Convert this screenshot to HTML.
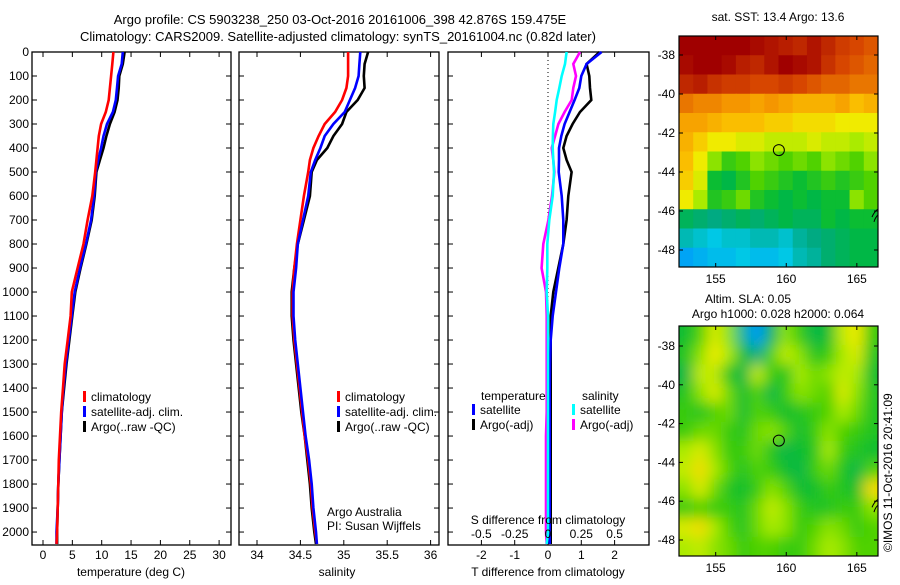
<!DOCTYPE html>
<html><head><meta charset="utf-8"><style>
body{margin:0;background:#fff;width:900px;height:580px;overflow:hidden}
svg{font-family:"Liberation Sans",sans-serif;font-size:12px}
</style></head><body>
<svg id="chart" width="900" height="580" xmlns="http://www.w3.org/2000/svg">
<text x="340" y="24" text-anchor="middle" font-size="13">Argo profile: CS 5903238_250 03-Oct-2016 20161006_398 42.876S 159.475E</text>
<text x="338" y="41" text-anchor="middle" font-size="13">Climatology: CARS2009. Satellite-adjusted climatology: synTS_20161004.nc (0.82d later)</text>
<g id="g1"></g>
<g id="g2"></g>
<g id="g3"></g>
<g id="m1"></g>
<g id="m2"></g>
<text x="778" y="21" text-anchor="middle">sat. SST: 13.4 Argo: 13.6</text>
<text x="748" y="303" text-anchor="middle">Altim. SLA: 0.05</text>
<text x="778" y="318" text-anchor="middle">Argo h1000: 0.028 h2000: 0.064</text>
<text transform="translate(892,552) rotate(-90)">©IMOS 11-Oct-2016 20:41:09</text>
<text x="327" y="516">Argo Australia</text>
<text x="327" y="530">PI: Susan Wijffels</text>
</svg>
<script>
const NS="http://www.w3.org/2000/svg";
const depths=[0,50,100,150,200,250,300,350,400,450,500,600,700,800,900,1000,1100,1200,1300,1400,1500,1600,1700,1800,1900,2000,2050];
const tClim=[12.0,11.8,11.6,11.4,11.2,10.7,9.9,9.5,9.3,9.1,8.9,8.4,7.6,6.9,5.9,4.9,4.7,4.2,3.7,3.4,3.1,2.9,2.7,2.6,2.5,2.4,2.3];
const tSat=[13.6,13.4,12.8,12.6,12.4,11.9,10.9,10.3,9.9,9.4,9.0,8.7,8.2,7.3,6.3,5.4,4.9,4.4,3.9,3.5,3.2,3.0,2.8,2.6,2.5,2.3,2.3];
const tArgo=[13.9,13.6,13.0,12.9,12.7,12.2,11.4,10.8,10.3,9.7,9.1,8.8,8.3,7.4,6.4,5.5,5.0,4.5,4.0,3.6,3.2,3.0,2.8,2.6,2.5,2.4,2.4];
const sClim=[35.05,35.05,35.05,35.03,34.98,34.90,34.78,34.71,34.65,34.61,34.59,34.54,34.50,34.46,34.43,34.41,34.41,34.43,34.46,34.49,34.52,34.55,34.59,34.62,34.64,34.67,34.69];
const sSat=[35.19,35.18,35.17,35.13,35.07,35.01,34.88,34.78,34.73,34.67,34.62,34.59,34.53,34.47,34.45,34.42,34.42,34.44,34.47,34.50,34.53,34.56,34.60,34.63,34.65,34.68,34.69];
const sArgo=[35.28,35.24,35.23,35.24,35.16,35.03,34.98,34.88,34.81,34.69,34.63,34.61,34.54,34.47,34.43,34.40,34.40,34.42,34.45,34.48,34.51,34.55,34.58,34.61,34.63,34.66,34.68];
const dTsat=[1.61,1.16,1.0,0.94,0.8,0.65,0.5,0.4,0.33,0.33,0.32,0.41,0.46,0.46,0.34,0.24,0.14,0.08,0.06,0.05,0.05,0.05,0.05,0.05,0.05,0.05,0.05];
const dTargo=[1.55,1.16,1.24,1.26,1.3,0.96,0.74,0.56,0.46,0.56,0.71,0.61,0.56,0.46,0.31,0.16,0.08,0.08,0.08,0.08,0.08,0.08,0.08,0.08,0.08,0.08,0.08];
const dSsat=[0.14,0.128,0.103,0.085,0.065,0.053,0.04,0.037,0.035,0.04,0.045,0.035,0.01,-0.005,-0.005,-0.01,0,0,0,0,0,0,0,0,0,0,-0.01];
const dSargo=[0.24,0.19,0.21,0.19,0.178,0.125,0.078,0.053,0.028,0.04,0.048,0.03,0.003,-0.035,-0.048,-0.015,-0.01,-0.01,-0.01,-0.01,-0.01,-0.015,-0.015,-0.015,-0.015,-0.015,-0.01];
const depthTicks=[0,100,200,300,400,500,600,700,800,900,1000,1100,1200,1300,1400,1500,1600,1700,1800,1900,2000];
const tTicks=[0,5,10,15,20,25,30];
const sTicks=[34,34.5,35,35.5,36];
const dTTicks=[-2,-1,0,1,2];
const dSTicks=[-0.5,-0.25,0,0.25,0.5];
const TOP=52,BOT=545;
const yD=d=>TOP+(d-0)*(BOT-TOP)/2054;
function el(p,t,a){const e=document.createElementNS(NS,t);for(const k in a)e.setAttribute(k,a[k]);p.appendChild(e);return e;}
function panel(g,x0,x1,xs,ticks,lab,fmt){
  const r=el(g,'rect',{x:x0,y:TOP,width:x1-x0,height:BOT-TOP,fill:'none',stroke:'#000','stroke-width':1.3});
  
  
  depthTicks.forEach(d=>{const y=yD(d);
    el(g,'line',{x1:x0,x2:x0+5,y1:y,y2:y,stroke:'#000'});el(g,'line',{x1:x1-5,x2:x1,y1:y,y2:y,stroke:'#000'});});
  ticks.forEach(v=>{const x=xs(v);
    el(g,'line',{x1:x,x2:x,y1:TOP,y2:TOP+5,stroke:'#000'});el(g,'line',{x1:x,x2:x,y1:BOT-5,y2:BOT,stroke:'#000'});
    if(lab){const t=el(g,'text',{x:x,y:559,'text-anchor':'middle'});t.textContent=fmt?fmt(v):v;
      
      }});
}
function line(g,xs,vals,col,name){
  let pts=[];vals.forEach((v,i)=>{pts.push(xs(v).toFixed(1)+','+yD(depths[i]).toFixed(1));});
  const p=el(g,'polyline',{points:pts.join(' '),fill:'none',stroke:col,'stroke-width':2.6,'stroke-linejoin':'miter'});
  
  
}
function legend(g,x,y,col,txt,name){
  el(g,'rect',{x:x,y:y-10,width:3,height:11,fill:col});
  const t=el(g,'text',{x:x+8,y:y});t.textContent=txt;
  
  
}
const g1=document.getElementById('g1');
const xT=v=>43+5.87*v;
panel(g1,32,231,xT,tTicks,true);
depthTicks.forEach(d=>{const t=el(g1,'text',{x:29,y:yD(d)+4,'text-anchor':'end'});t.textContent=d;
  
  });
const xl1=el(g1,'text',{x:131,y:576,'text-anchor':'middle'});xl1.textContent='temperature (deg C)';


line(g1,xT,tArgo,'#000','argo-temperature-line');
line(g1,xT,tSat,'#00f','satellite-temperature-line');
line(g1,xT,tClim,'#f00','climatology-temperature-line');
legend(g1,83,401,'#f00','climatology','legend-climatology');
legend(g1,83,416,'#00f','satellite-adj. clim.','legend-satellite');
legend(g1,83,431,'#000','Argo(..raw -QC)','legend-argo');
const g2=document.getElementById('g2');
const xS=v=>257+86.8*(v-34);
panel(g2,239,439,xS,sTicks,true);
const xl2=el(g2,'text',{x:337,y:576,'text-anchor':'middle'});xl2.textContent='salinity';


line(g2,xS,sArgo,'#000','argo-salinity-line');
line(g2,xS,sClim,'#f00','climatology-salinity-line');
line(g2,xS,sSat,'#00f','satellite-salinity-line');
legend(g2,337,401,'#f00','climatology','legend-climatology-2');
legend(g2,337,416,'#00f','satellite-adj. clim.','legend-satellite-2');
legend(g2,337,431,'#000','Argo(..raw -QC)','legend-argo-2');
const g3=document.getElementById('g3');
const xD=v=>548+33.3*v;
const xDS=v=>548+133.2*v;
panel(g3,448,649,xD,dTTicks,true);
el(g3,'line',{x1:548,x2:548,y1:TOP,y2:BOT,stroke:'#000','stroke-dasharray':'1,3'});
line(g3,xD,dTargo,'#000','argo-temp-diff-line');
line(g3,xD,dTsat,'#00f','satellite-temp-diff-line');
line(g3,xDS,dSargo,'#f0f','argo-salinity-diff-line');
line(g3,xDS,dSsat,'#0ff','satellite-salinity-diff-line');
dSTicks.forEach(v=>{const t=el(g3,'text',{x:xDS(v),y:538,'text-anchor':'middle'});t.textContent=v;
  
  });
const s1=el(g3,'text',{x:548,y:524,'text-anchor':'middle'});s1.textContent='S difference from climatology';


const s2=el(g3,'text',{x:548,y:576,'text-anchor':'middle'});s2.textContent='T difference from climatology';


const lt=el(g3,'text',{x:481,y:400});lt.textContent='temperature';


const ls=el(g3,'text',{x:582,y:400});ls.textContent='salinity';


legend(g3,472,414,'#00f','satellite','legend-t-satellite');
legend(g3,472,429,'#000','Argo(-adj)','legend-t-argo');
legend(g3,572,414,'#0ff','satellite','legend-s-satellite');
legend(g3,572,429,'#f0f','Argo(-adj)','legend-s-argo');

const lonTicks=[155,160,165];
const latTicks=[-38,-40,-42,-44,-46,-48];
const sstGrid=[
[100,100,100,100,100,98,96,94,92,96,92,88,86,84],
[98,100,100,98,94,92,96,100,98,96,90,86,84,82],
[92,94,90,88,88,86,86,88,86,84,82,82,80,80],
[80,78,78,76,76,74,76,74,72,72,72,74,70,72],
[74,74,72,70,70,70,68,68,66,66,66,64,64,64],
[72,68,64,64,62,62,60,60,60,62,60,60,58,60],
[70,64,56,50,52,56,54,52,54,52,56,54,52,56],
[68,62,46,44,48,52,50,48,46,48,50,48,50,52],
[64,58,48,50,54,48,46,44,46,44,46,46,56,52],
[42,40,38,40,42,40,42,44,42,42,46,44,46,46],
[34,32,30,32,32,34,34,32,36,38,40,42,44,44],
[24,26,28,28,30,28,28,30,34,36,40,42,44,44]];
const slaGrid=[
[46,52,62,56,36,22,42,56,50,44,46,60,64,50],
[48,56,64,58,46,38,52,60,56,48,50,58,62,48],
[44,60,60,48,44,60,50,48,58,54,56,60,58,46],
[48,56,62,54,46,52,44,50,56,54,52,62,56,48],
[50,48,52,54,46,52,50,46,48,50,52,58,54,48],
[50,54,54,50,48,54,56,52,46,50,56,52,50,48],
[58,62,56,50,50,54,48,44,46,48,58,50,48,46],
[60,66,58,52,48,52,50,46,44,50,54,48,44,52],
[56,62,54,48,46,50,56,52,46,46,50,48,46,66],
[50,52,50,50,48,54,60,56,50,48,48,50,50,56],
[62,66,58,52,48,54,58,56,50,52,56,54,50,52],
[58,60,56,54,50,52,52,50,50,54,58,56,52,52]];
const argoLon=159.475, argoLat=-42.876;
const stops=[[0,[0,60,255]],[20,[0,140,255]],[30,[0,200,230]],[38,[0,170,130]],[45,[0,185,60]],[52,[80,210,0]],[58,[170,235,0]],[64,[240,235,0]],[70,[250,190,0]],[76,[245,150,0]],[86,[215,70,0]],[100,[160,0,0]]];
function cmap(v){for(let i=1;i<stops.length;i++){if(v<=stops[i][0]){const a=stops[i-1],b=stops[i],f=(v-a[0])/(b[0]-a[0]);
  return 'rgb('+a[1].map((c,k)=>Math.round(c+f*(b[1][k]-c))).join(',')+')';}}return 'rgb(160,0,0)';}
function map(id,x0,y0,x1,y1,grid,blur,lat38,lat48){
  const g=document.getElementById(id);
  const lonMin=152.4,lonMax=166.5;
  const xs=v=>x0+(v-lonMin)*(x1-x0)/(lonMax-lonMin);
  const sc=(lat48-lat38)/10;
  const ys=v=>lat38-(v+38)*sc;
  const latTop=-38+(lat38-y0)/sc, latBot=-38-(y1-lat38)/sc;
  const cid='clip'+id;
  const defs=el(g,'defs',{});
  const cp=el(defs,'clipPath',{id:cid});el(cp,'rect',{x:x0,y:y0,width:x1-x0,height:y1-y0});
  if(blur){const f=el(defs,'filter',{id:'bl'+id,x:'-20%',y:'-20%',width:'140%',height:'140%'});el(f,'feGaussianBlur',{stdDeviation:blur});}
  const cg=el(g,'g',{'clip-path':'url(#'+cid+')'});
  const ig=el(cg,'g',blur?{filter:'url(#bl'+id+')'}:{});
  const nr=grid.length,nc=grid[0].length;
  const dLon=(lonMax-lonMin)/nc,dLat=(latTop-latBot)/nr;
  grid.forEach((row,r)=>row.forEach((v,c)=>{
    let xa=xs(lonMin+c*dLon),xb=xs(lonMin+(c+1)*dLon),ya=ys(latTop-r*dLat),yb=ys(latTop-(r+1)*dLat);
    if(blur){if(c==0)xa-=25;if(c==nc-1)xb+=25;if(r==0)ya-=25;if(r==nr-1)yb+=25;}
    const rc=el(ig,'rect',{x:xa,y:ya,width:xb-xa+0.6,height:yb-ya+0.6,fill:cmap(v)});
    
    
  }));
  el(cg,'path',{d:`M${xs(166.5)},${ys(-45.9)} q-4,3 -6,8 M${xs(166.5)},${ys(-46.2)} q-3,3 -4,7`,fill:'none',stroke:'#000','stroke-width':1});
  const c=el(g,'circle',{cx:xs(argoLon),cy:ys(argoLat),r:5.5,fill:'none',stroke:'#000','stroke-width':1});
  
  
  el(g,'rect',{x:x0,y:y0,width:x1-x0,height:y1-y0,fill:'none',stroke:'#000','stroke-width':1.2});
  lonTicks.forEach(v=>{const x=xs(v);el(g,'line',{x1:x,x2:x,y1:y0,y2:y0+4,stroke:'#000'});el(g,'line',{x1:x,x2:x,y1:y1-4,y2:y1,stroke:'#000'});
    const t=el(g,'text',{x:x,y:y1+16,'text-anchor':'middle'});t.textContent=v;
    
    });
  latTicks.forEach(v=>{const y=ys(v);el(g,'line',{x1:x0,x2:x0+4,y1:y,y2:y,stroke:'#000'});el(g,'line',{x1:x1-4,x2:x1,y1:y,y2:y,stroke:'#000'});
    const t=el(g,'text',{x:x0-4,y:y+4,'text-anchor':'end'});t.textContent=v;
    
    });
}
map('m1',679,36,878,267,sstGrid,0,55,250);
map('m2',679,326,878,556,slaGrid,7,346,540);
</script>
</body></html>
